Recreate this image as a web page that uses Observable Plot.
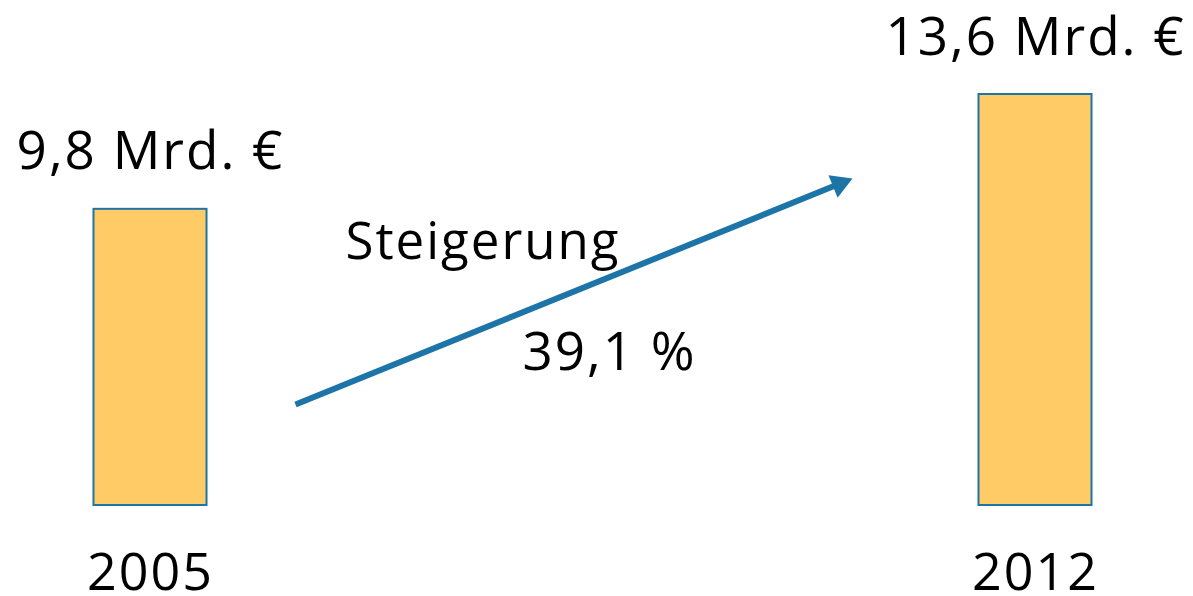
<!DOCTYPE html>
<html>
<head>
<meta charset="utf-8">
<script src="https://cdn.jsdelivr.net/npm/d3@7"></script>
<script src="https://cdn.jsdelivr.net/npm/@observablehq/plot@0.6"></script>
<style>
  html, body { margin: 0; padding: 0; background: #fff; }
  #chart svg { display: block; }
</style>
</head>
<body>
<div id="chart"></div>
<script>
const years = [2005, 2012];
const values = [9.8, 13.6];
const unit = "Mrd. €";
const growthLabel = "Steigerung";
const growthValue = "39,1 %";

const data = years.map((year, i) => ({year, value: values[i]}));
const fmt = v => v.toLocaleString("de-DE") + " " + unit;

const font = "'Open Sans', 'Noto Sans', sans-serif";
const blue = "#1c75a6";

// arrow annotation (in data units)
const arrowStart = {x: 2006.147, y: 3.342};
const arrowHead = {x: 2010.45, y: 10.645};

const chart = Plot.plot({
  width: 1193,
  height: 596,
  marginLeft: 150,
  marginRight: 158,
  marginTop: 94,
  marginBottom: 91,
  style: {fontFamily: font, background: "#fff", letterSpacing: "2px", overflow: "visible"},
  x: {type: "linear", domain: [2005, 2012], axis: null},
  y: {domain: [0, 13.6], axis: null},
  marks: [
    Plot.rectY(data, {
      x1: d => d.year - 0.447,
      x2: d => d.year + 0.447,
      y: "value",
      fill: "#fecb66",
      stroke: blue,
      strokeWidth: 2
    }),
    Plot.text(data, {
      x: "year",
      y: "value",
      text: d => fmt(d.value),
      lineAnchor: "bottom",
      dy: -40,
      fontSize: 53,
      fill: "#000"
    }),
    Plot.axisX({
      ticks: years,
      tickFormat: d => String(d),
      tickSize: 0,
      tickPadding: 48,
      fontSize: 52,
      fill: "#000",
      label: null,
      anchor: "bottom"
    }),
    Plot.link([0], {
      x1: () => arrowStart.x,
      y1: () => arrowStart.y,
      x2: () => arrowHead.x,
      y2: () => arrowHead.y,
      stroke: blue,
      strokeWidth: 6
    }),
    Plot.dot([0], {
      x: () => arrowHead.x,
      y: () => arrowHead.y,
      symbol: "triangle",
      r: 9,
      rotate: 67.9,
      fill: blue,
      stroke: "none"
    }),
    Plot.text([growthLabel], {
      x: () => 2006.542,
      y: () => 8.15,
      text: d => d,
      textAnchor: "start",
      lineAnchor: "bottom",
      fontSize: 51,
      fill: "#000"
    }),
    Plot.text([growthValue], {
      x: () => 2007.942,
      y: () => 4.5,
      text: d => d,
      textAnchor: "start",
      lineAnchor: "bottom",
      fontSize: 53,
      fill: "#000"
    })
  ]
});
document.getElementById("chart").appendChild(chart);
</script>
</body>
</html>
